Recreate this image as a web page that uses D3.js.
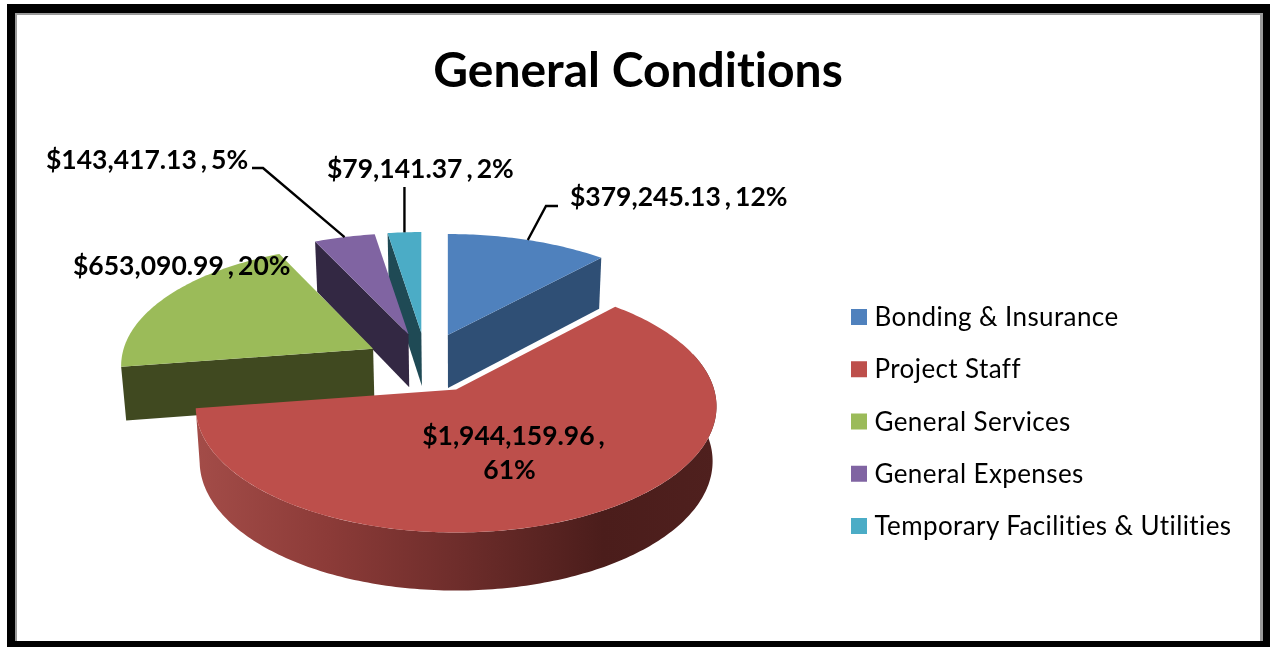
<!DOCTYPE html>
<html><head><meta charset="utf-8">
<script src="https://cdn.jsdelivr.net/npm/d3@7/dist/d3.min.js"></script>
<style>
html,body{margin:0;padding:0;background:#fff;overflow:hidden}
svg{display:block}
text{font-family:Lato,"Open Sans",sans-serif;fill:#000;font-variant-ligatures:none}
.soft{filter:blur(0.45px)}
</style></head><body>
<svg id="c" width="1270" height="647"></svg>
<script>
const categories = ["Bonding & Insurance","Project Staff","General Services","General Expenses","Temporary Facilities & Utilities"];
const values = [379245.13,1944159.96,653090.99,143417.13,79141.37];
const percents = ["12%","61%","20%","5%","2%"];
const topColors = ["#4f81bd","#bd4f4b","#9bbb59","#8064a2","#4bacc6"];
const wallColors = ["#2f4f75","#7a3330","#404920","#332843","#1f4a55"];
const chartTitle = "General Conditions";

const svg = d3.select("#c");
const W=1270,H=647;
// frame
svg.append("rect").attr("x",7).attr("y",4).attr("width",W-7).attr("height",H-4).attr("fill","#000");
svg.append("rect").attr("x",15).attr("y",13).attr("width",1248).attr("height",628).attr("fill","#9a9a9a");
svg.append("rect").attr("x",17).attr("y",15).attr("width",1243).attr("height",626).attr("fill","#fff");

svg.append("text").attr("class","soft").attr("x",638).attr("y",87).attr("text-anchor","middle")
  .attr("font-size",48).attr("font-weight",700).text(chartTitle);

// projection of the tilted pie: each slice sits at its own depth, so perspective differs
const Cx=426,Cy=363,pullX=60,pullY=30;
const perspective=[
  {R:255,Ry:118.4,K:0.172,dx:0},
  {R:258,Ry:123.7,K:0.135,dx:2},
  {R:249.5,Ry:118,K:0.14,dx:0},
  {R:255,Ry:118.4,K:0.172,dx:0},
  {R:255,Ry:118.4,K:0.172,dx:0}
];
const pie=d3.pie().sort(null).value(d=>d)(values);
const slices=pie.map((p,i)=>{
  const mid=(p.startAngle+p.endAngle)/2;
  return {i,a0:p.startAngle,a1:p.endAngle,mid,...perspective[i],
    ax:Cx+perspective[i].dx+pullX*Math.sin(mid),ay:Cy-pullY*Math.cos(mid)};
});
function rim(s,a){
  const u=Math.sin(a),v=-Math.cos(a),k=1/(1-s.K*v);
  return [s.ax+s.R*u*k,s.ay+s.Ry*v*k];
}
const VX=458,T=0.985;
function drop(p){
  return [VX+(p[0]-VX)*T,p[1]+52+6*(p[1]-300)/232];
}
const line=d3.line();
function rimPts(s,a0,a1){
  const n=Math.max(4,Math.ceil((a1-a0)*60));
  return d3.range(n+1).map(j=>rim(s,a0+(a1-a0)*j/n));
}
const defs=svg.append("defs");
const grad=defs.append("linearGradient").attr("id","redWall").attr("gradientUnits","userSpaceOnUse")
  .attr("x1",197).attr("x2",718).attr("y1",0).attr("y2",0);
[[0,"#a34c48"],[0.25,"#8c3b38"],[0.5,"#6e2d2b"],[0.78,"#4b1d1b"],[1,"#4f201e"]]
  .forEach(d=>grad.append("stop").attr("offset",d[0]).attr("stop-color",d[1]));

const g=svg.append("g").attr("class","soft");
function cutWall(s,a,fill){
  const apex=[s.ax,s.ay],e=rim(s,a);
  g.append("path").attr("d",line([apex,e,drop(e),drop(apex)])+"Z").attr("fill",fill);
}
function topFace(s){
  g.append("path").attr("d",line([[s.ax,s.ay],...rimPts(s,s.a0,s.a1)])+"Z").attr("fill",topColors[s.i]);
}
// back to front
const [blue,red,green,purple,teal]=slices;
cutWall(teal,teal.a0,wallColors[4]); topFace(teal);
cutWall(purple,purple.a0,wallColors[3]); topFace(purple);
cutWall(blue,blue.a1,wallColors[0]); topFace(blue);
cutWall(green,green.a0,wallColors[2]); topFace(green);
const front=rimPts(red,Math.PI/2-0.3,red.a1);
g.append("path").attr("d",line([...front,...front.slice().reverse().map(drop)])+"Z").attr("fill","url(#redWall)");
topFace(red);

// leader lines
const money=d3.format("$,.2f");
const lab=i=>money(values[i])+" , "+percents[i];
const leaders=[
 [rim(blue,blue.mid),[546,206],[558,206]],
 [rim(purple,purple.mid),[263,168],[252,168]],
 [rim(teal,teal.mid),[rim(teal,teal.mid)[0],187]]
];
leaders.forEach(l=>g.append("path").attr("d",line(l)).attr("fill","none").attr("stroke","#000").attr("stroke-width",2.4));

// data labels
const labelStyle=t=>t.attr("font-size",26.5).attr("font-weight",700).attr("word-spacing",-2.4);
[[0,570,206],[4,327,178],[3,46,169],[2,73,275]].forEach(([i,x,y])=>{
  g.append("text").attr("x",x).attr("y",y).call(labelStyle).text(lab(i));
});
g.append("text").attr("x",513.5).attr("y",445).attr("text-anchor","middle").call(labelStyle).text(money(values[1])+" ,");
g.append("text").attr("x",509.5).attr("y",478.5).attr("text-anchor","middle").call(labelStyle).text(percents[1]);

// legend
const ly=d3.scalePoint().domain(categories).range([317,526]);
const lg=svg.append("g").attr("class","soft");
categories.forEach((c,i)=>{
  lg.append("rect").attr("x",851).attr("y",ly(c)-8).attr("width",16).attr("height",16).attr("fill",topColors[i]);
  lg.append("text").attr("x",874.5).attr("y",ly(c)+9.2).attr("font-size",26).attr("letter-spacing",0.4).text(c);
});
</script>
</body></html>
